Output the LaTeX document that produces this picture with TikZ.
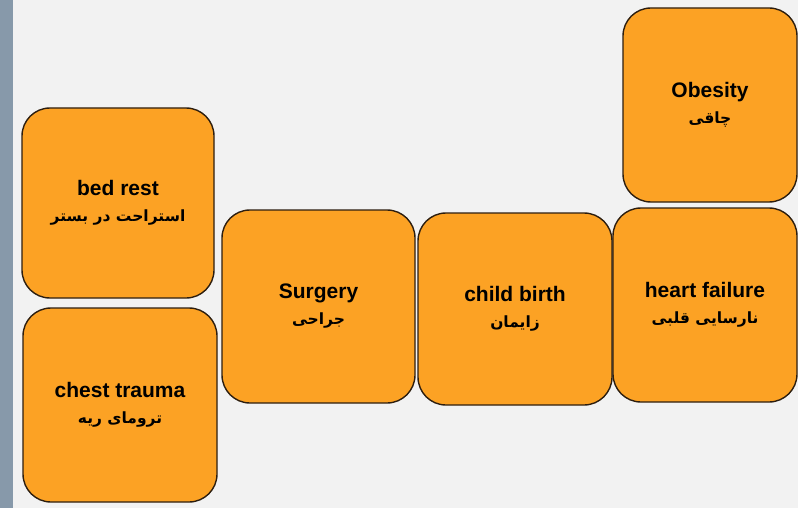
\documentclass[tikz,border=0pt]{standalone}
\usepackage{fontspec}
\setmainfont{Liberation Sans}
\newfontfamily\arabicfont[Script=Arabic]{DejaVu Sans}
\TeXXeTstate=1
\definecolor{boxfill}{RGB}{252,162,36}
\definecolor{boxline}{RGB}{45,30,15}
\definecolor{bgcol}{RGB}{242,242,242}
\definecolor{stripcol}{RGB}{135,153,170}
\newcommand{\fa}[1]{{\arabicfont\bfseries\fontsize{15.5}{26}\selectfont\beginR #1\endR}}
\newcommand{\en}[1]{{\bfseries\fontsize{21}{26}\selectfont #1}}
\tikzset{
  cbox/.style={draw=boxline, line width=1.4pt, fill=boxfill, rounded corners=28pt,
    inner sep=0pt, align=center, text=black, font=\fontsize{21}{26}\selectfont},
}
\begin{document}
\begin{tikzpicture}[x=1pt,y=-1pt]
\useasboundingbox (0,0) rectangle (798,508);
\fill[bgcol] (0,0) rectangle (798,508);
\fill[stripcol] (0,0) rectangle (13,508);
\node[cbox, minimum width=192pt, minimum height=190pt] (bed) at (118,203)
  {\en{bed rest}\\\fa{استراحت در بستر}};
\node[cbox, minimum width=194pt, minimum height=194pt] (chest) at (120,405)
  {\en{chest trauma}\\\fa{ترومای ریه}};
\node[cbox, minimum width=193pt, minimum height=193pt] (surg) at (318.5,306.5)
  {\en{Surgery}\\\fa{جراحی}};
\node[cbox, minimum width=194pt, minimum height=192pt] (child) at (515,309)
  {\en{child birth}\\\fa{زایمان}};
\node[cbox, minimum width=184pt, minimum height=194pt] (heart) at (705,305)
  {\en{heart failure}\\\fa{نارسایی قلبی}};
\node[cbox, minimum width=174pt, minimum height=194pt] (obes) at (710,105)
  {\en{Obesity}\\\fa{چاقی}};
\end{tikzpicture}
\end{document}
